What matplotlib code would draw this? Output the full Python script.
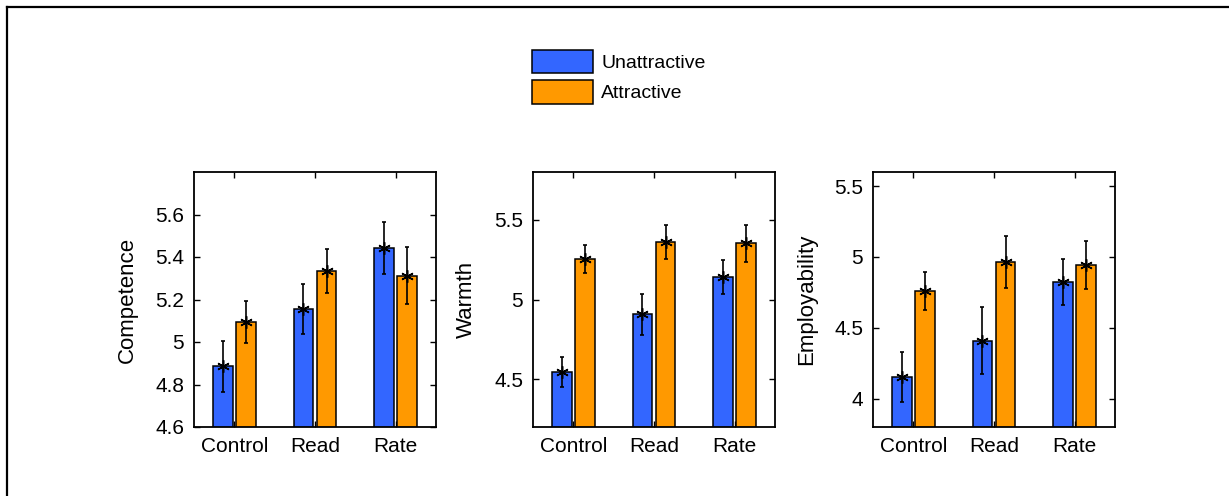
import matplotlib
matplotlib.use("Agg")
import matplotlib.pyplot as plt
import numpy as np
from matplotlib.lines import Line2D

plt.rcParams['font.family'] = ['Liberation Sans', 'DejaVu Sans']

categories = ["Control", "Read", "Rate"]
series_names = ["Unattractive", "Attractive"]
colors = ["#3366ff", "#ff9900"]

competence_unatt = [4.885, 5.155, 5.442]
competence_att = [5.095, 5.333, 5.312]
competence_err_unatt = [0.12, 0.118, 0.122]
competence_err_att = [0.10, 0.103, 0.135]

warmth_unatt = [4.543, 4.906, 5.140]
warmth_att = [5.255, 5.363, 5.352]
warmth_err_unatt = [0.095, 0.128, 0.108]
warmth_err_att = [0.088, 0.106, 0.118]

employ_unatt = [4.155, 4.410, 4.822]
employ_att = [4.760, 4.964, 4.942]
employ_err_unatt = [0.176, 0.235, 0.163]
employ_err_att = [0.133, 0.185, 0.168]

panels = [
    ("Competence", competence_unatt, competence_att, competence_err_unatt, competence_err_att,
     (4.6, 5.8), [4.6, 4.8, 5.0, 5.2, 5.4, 5.6], ["4.6", "4.8", "5", "5.2", "5.4", "5.6"]),
    ("Warmth", warmth_unatt, warmth_att, warmth_err_unatt, warmth_err_att,
     (4.2, 5.8), [4.5, 5.0, 5.5], ["4.5", "5", "5.5"]),
    ("Employability", employ_unatt, employ_att, employ_err_unatt, employ_err_att,
     (3.8, 5.6), [4.0, 4.5, 5.0, 5.5], ["4", "4.5", "5", "5.5"]),
]

W, H = 1229, 496
fig = plt.figure(figsize=(W / 100, H / 100), dpi=100)

# figure border (top and left lines)
fig.add_artist(Line2D([7 / W, 1.0], [1 - 7 / H, 1 - 7 / H], transform=fig.transFigure,
                      color="black", lw=1.6))
fig.add_artist(Line2D([7 / W, 7 / W], [0.0, 1 - 7 / H], transform=fig.transFigure,
                      color="black", lw=1.6))

lefts = [194, 533, 873]
ax_w, ax_top, ax_bot = 242, 172, 427
x = np.arange(1, len(categories) + 1)
off = 0.143
bw = 0.245
handles = []
for i, (ylabel, u, a, eu, ea, ylim, yt, ytl) in enumerate(panels):
    ax = fig.add_axes([lefts[i] / W, 1 - ax_bot / H, ax_w / W, (ax_bot - ax_top) / H])
    b1 = ax.bar(x - off, u, width=bw, color=colors[0], edgecolor="black", linewidth=1.1,
                label=series_names[0], zorder=2)
    b2 = ax.bar(x + off, a, width=bw, color=colors[1], edgecolor="black", linewidth=1.1,
                label=series_names[1], zorder=2)
    for xs, vals, errs in [(x - off, u, eu), (x + off, a, ea)]:
        ax.errorbar(xs, vals, yerr=errs, fmt="none", ecolor="black", elinewidth=1.2,
                    capsize=1.6, capthick=1.2, zorder=3)
        ax.plot(xs, vals, linestyle="none", marker=(6, 2, 0), markersize=9,
                color="black", markeredgewidth=1.1, zorder=4)
    if i == 0:
        handles = [b1, b2]
    ax.set_xlim(0.5, 3.5)
    ax.set_ylim(*ylim)
    ax.set_xticks(x)
    ax.set_xticklabels(categories)
    ax.set_yticks(yt)
    ax.set_yticklabels(ytl)
    ax.tick_params(axis="both", direction="in", length=4, width=1.0, labelsize=15,
                   top=True, right=True)
    ax.tick_params(axis="x", pad=7)
    ax.tick_params(axis="y", pad=7)
    for s in ax.spines.values():
        s.set_linewidth(1.3)
    ax.set_ylabel(ylabel, fontsize=16)
    ax.yaxis.set_label_coords(-0.232, 0.5)

leg = fig.legend(handles, series_names, loc="upper left",
                 bbox_to_anchor=(532 / W, 1 - 50 / H), frameon=False, fontsize=14,
                 handlelength=3.15, handleheight=1.45, handletextpad=0.4,
                 labelspacing=0.38, borderpad=0, borderaxespad=0)

fig.savefig("out.png", dpi=100)
